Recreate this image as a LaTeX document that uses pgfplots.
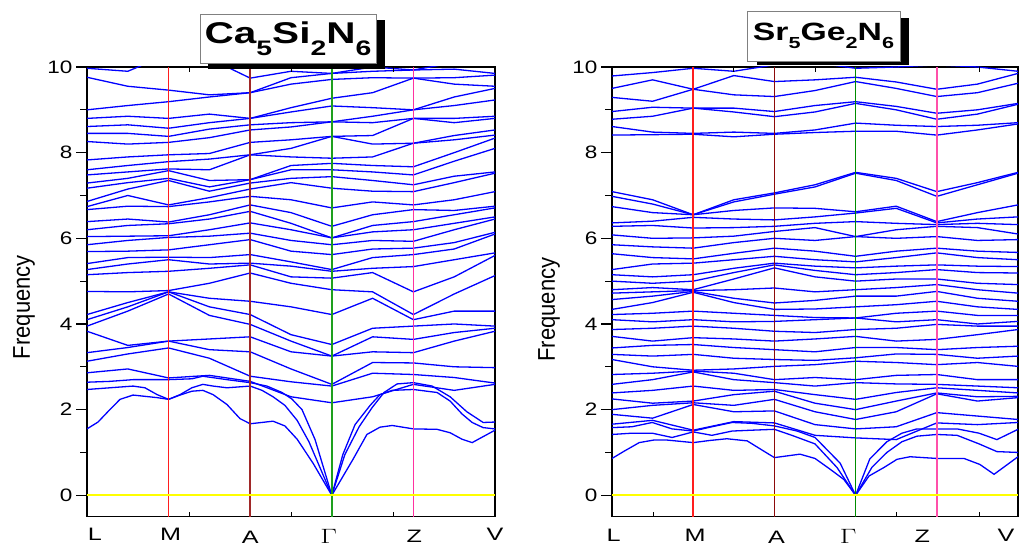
\documentclass[border=0pt]{standalone}
\usepackage{fontspec}
\setmainfont{Liberation Sans}
\usepackage{graphicx}
\usepackage{pgfplots}
\usepackage{pgfplotstable}
\pgfplotsset{compat=1.18}

\definecolor{bandblue}{RGB}{0,0,255}
\definecolor{leftM}{RGB}{255,30,30}
\definecolor{leftA}{RGB}{160,40,40}
\definecolor{leftG}{RGB}{30,160,30}
\definecolor{leftZ}{RGB}{255,50,160}
\definecolor{rightM}{RGB}{255,30,30}
\definecolor{rightA}{RGB}{140,10,10}
\definecolor{rightG}{RGB}{0,140,0}
\definecolor{rightZ}{RGB}{255,80,170}
\definecolor{zeroyellow}{RGB}{255,255,0}

\newcommand\yl[1]{\scalebox{1.25}[1]{#1}}
\newcommand\xl[3]{\makebox[0pt][c]{\hspace*{#1}\raisebox{#2}{\scalebox{1.4}[1]{#3}}}}
\newcommand\gam{{\fontsize{20}{20}\selectfont$\Gamma$}}
\newcommand\sbA[1]{\raisebox{-11.5pt}{\fontsize{21}{21}\selectfont #1}}
\newcommand\sbB[1]{\raisebox{-8.5pt}{\fontsize{16}{16}\selectfont #1}}

% Ca5Si2N6 optical bands: values at L, LM, M, MA, A, AG, G, GZ, Z, ZV, V
\pgfplotstableread{
band x0 x1 x2 x3 x4 x5 x6 x7 x8 x9 x10
b4 2.86 2.95 2.74 2.80 2.66 2.30 2.16 2.30 2.59 2.45 2.59
b5 3.13 3.30 3.44 3.20 2.78 2.65 2.55 2.85 2.82 2.75 2.62
b6 3.33 3.45 3.60 3.40 3.35 2.95 2.59 3.10 3.09 3.00 2.98
b7 3.83 3.50 3.60 3.65 3.70 3.35 3.25 3.35 3.33 3.60 3.83
b8 3.95 4.30 4.70 4.20 3.99 3.60 3.25 3.70 3.64 3.80 3.90
b9 4.10 4.40 4.75 4.40 4.22 3.75 3.52 3.90 3.95 4.00 3.95
b10 4.22 4.50 4.75 4.60 4.53 4.40 4.22 4.60 4.10 4.30 4.30
b11 4.76 4.75 4.78 4.95 5.19 4.95 4.80 4.75 4.22 4.70 5.13
b12 5.15 5.20 5.23 5.30 5.38 5.10 5.07 5.20 4.75 5.10 5.60
b13 5.27 5.40 5.50 5.40 5.42 5.35 5.23 5.30 5.34 5.50 5.66
b14 5.41 5.55 5.56 5.55 5.62 5.45 5.27 5.55 5.62 5.75 6.10
b15 5.69 5.70 5.73 5.85 5.97 5.70 5.62 5.75 5.77 5.90 6.14
b16 5.85 5.95 6.02 6.05 6.12 5.95 5.85 5.95 5.93 6.20 6.45
b17 6.04 6.05 6.06 6.20 6.36 6.20 6.01 6.15 6.20 6.35 6.50
b18 6.20 6.30 6.34 6.45 6.63 6.35 6.01 6.30 6.39 6.55 6.71
b19 6.39 6.45 6.38 6.55 6.78 6.60 6.28 6.55 6.67 6.65 6.75
b20 6.67 6.75 6.74 6.85 6.98 6.90 6.71 6.85 6.78 6.90 7.09
b21 6.74 7.00 6.78 6.95 7.15 7.30 7.17 7.10 7.09 7.30 7.52
b22 6.86 7.15 7.35 7.10 7.29 7.40 7.44 7.35 7.25 7.45 7.55
b23 7.17 7.30 7.40 7.20 7.37 7.60 7.60 7.55 7.48 7.80 8.10
b24 7.29 7.40 7.58 7.35 7.37 7.70 7.75 7.70 7.67 8.00 8.34
b25 7.48 7.55 7.62 7.60 7.95 7.90 7.87 7.90 8.22 8.30 8.41
b26 7.60 7.70 7.79 7.85 7.95 8.10 8.38 8.20 8.22 8.40 8.53
b27 7.83 7.90 7.95 7.98 8.24 8.30 8.38 8.40 8.80 8.70 8.80
b28 8.26 8.20 8.24 8.35 8.53 8.60 8.72 8.70 8.80 8.80 8.85
b29 8.45 8.45 8.38 8.55 8.65 8.70 8.72 8.85 9.00 9.10 9.23
b30 8.61 8.65 8.57 8.70 8.80 8.95 9.09 9.05 9.00 9.30 9.50
b31 8.80 8.85 8.80 8.90 8.80 9.05 9.27 9.40 9.74 9.60 9.55
b32 9.00 9.10 9.19 9.30 9.40 9.60 9.71 9.75 9.74 9.75 9.81
b33 9.76 9.55 9.46 9.35 9.40 9.75 9.85 9.90 9.93 9.95 9.85
b34 9.97 9.90 10.3 10.2 9.74 9.90 9.85 10.0 9.93 10.1 10.1
}\leftraw
\pgfplotstabletranspose[colnames from=band]\leftT\leftraw

% Sr5Ge2N6 optical bands
\pgfplotstableread{
band x0 x1 x2 x3 x4 x5 x6 x7 x8 x9 x10
r4 1.66 1.75 1.52 1.72 1.69 1.40 1.34 1.30 1.69 1.65 1.70
r5 1.89 1.80 2.12 1.95 1.97 1.65 1.55 1.60 1.93 1.85 1.77
r6 2.00 2.10 2.16 2.10 2.24 1.95 1.77 1.95 2.37 2.20 2.28
r7 2.25 2.15 2.20 2.35 2.43 2.15 2.00 2.20 2.39 2.30 2.31
r8 2.39 2.45 2.55 2.45 2.47 2.35 2.24 2.40 2.51 2.45 2.39
r9 2.59 2.70 2.88 2.70 2.63 2.55 2.63 2.60 2.59 2.55 2.51
r10 2.82 2.85 2.90 2.85 2.70 2.75 2.70 2.80 2.82 2.70 2.70
r11 3.17 3.00 2.92 2.95 3.01 3.05 3.13 3.10 3.05 3.10 3.01
r12 3.29 3.25 3.29 3.20 3.17 3.15 3.21 3.30 3.29 3.20 3.25
r13 3.44 3.50 3.52 3.45 3.40 3.35 3.45 3.45 3.40 3.45 3.48
r14 3.71 3.60 3.68 3.65 3.60 3.65 3.71 3.60 3.64 3.75 3.87
r15 3.87 3.90 3.95 3.90 3.83 3.80 3.87 3.90 3.99 3.95 3.95
r16 4.10 4.05 4.10 4.05 4.06 4.10 4.14 4.05 4.10 4.00 4.06
r17 4.22 4.25 4.30 4.25 4.20 4.15 4.14 4.25 4.30 4.20 4.20
r18 4.34 4.50 4.74 4.50 4.34 4.35 4.40 4.45 4.53 4.40 4.34
r19 4.57 4.65 4.76 4.60 4.49 4.55 4.65 4.65 4.76 4.60 4.53
r20 4.72 4.75 4.78 4.80 4.84 4.75 4.80 4.85 4.92 4.80 4.72
r21 4.80 4.85 4.80 5.05 5.31 5.10 5.00 5.05 5.05 4.95 4.92
r22 5.00 4.95 5.00 5.20 5.38 5.25 5.15 5.20 5.27 5.20 5.19
r23 5.15 5.10 5.15 5.30 5.42 5.35 5.31 5.35 5.38 5.35 5.34
r24 5.27 5.40 5.42 5.50 5.58 5.50 5.45 5.55 5.66 5.55 5.50
r25 5.64 5.55 5.52 5.65 5.77 5.70 5.58 5.70 5.77 5.70 5.67
r26 5.85 5.80 5.77 5.90 6.00 5.95 6.04 6.00 6.04 5.95 5.97
r27 6.08 6.00 6.01 6.05 6.16 6.25 6.04 6.20 6.28 6.25 6.10
r28 6.28 6.30 6.24 6.25 6.28 6.35 6.39 6.35 6.32 6.35 6.32
r29 6.36 6.40 6.49 6.45 6.43 6.50 6.59 6.70 6.36 6.45 6.50
r30 6.74 6.60 6.55 6.65 6.71 6.70 6.62 6.75 6.39 6.60 6.78
r31 7.09 6.90 6.55 6.90 7.06 7.25 7.54 7.40 7.09 7.30 7.54
r32 6.98 6.80 6.55 6.85 7.03 7.20 7.52 7.35 6.98 7.25 7.52
r33 8.41 8.42 8.43 8.37 8.43 8.47 8.50 8.50 8.41 8.53 8.67
r34 8.61 8.48 8.45 8.48 8.45 8.53 8.69 8.64 8.61 8.64 8.70
r35 8.78 8.85 9.04 8.95 8.84 8.95 9.15 9.00 8.78 8.90 9.13
r36 8.96 9.06 9.04 9.04 8.96 9.10 9.19 9.08 8.92 9.00 9.15
r37 9.29 9.20 9.48 9.35 9.31 9.45 9.66 9.50 9.31 9.40 9.62
r38 9.50 9.70 9.48 9.80 9.66 9.70 9.76 9.65 9.48 9.60 9.85
r39 9.79 9.87 9.97 9.90 10.05 10.1 9.97 10.0 10.05 10.0 9.90
}\rightraw
\pgfplotstabletranspose[colnames from=band]\rightT\rightraw

\pgfplotsset{
  bandaxis/.style={
    scale only axis, anchor=south west,
    height=449.7pt,
    xmin=0, xmax=10, ymin=-0.5, ymax=10,
    axis line style={line width=1.2pt},
    tick align=outside,
    major tick length=11pt, minor tick length=7pt,
    ytick={0,2,4,6,8,10}, minor ytick={1,3,5,7,9},
    yticklabels={\yl{0},\yl{2},\yl{4},\yl{6},\yl{8},\yl{10}},
    ytick pos=left,
    ytick style={line width=1.1pt, black},
    yticklabel style={font=\fontsize{18}{18}\selectfont, anchor=east},
    xtick={0,2,4,6,8,10},
    xtick style={draw=none},
    xticklabel style={font=\fontsize{18}{18}\selectfont, anchor=base},
    ylabel={\scalebox{1}[1.1]{Frequency}},
    every axis y label/.style={at={(axis description cs:0,0.466)}, xshift=-63pt, rotate=90, anchor=center, font=\fontsize{22}{22}\selectfont},
    band/.style={bandblue, line width=1.3pt},
    symline/.style={line width=1.5pt},
  },
}

\begin{document}
\begin{tikzpicture}
\useasboundingbox (0,0) rectangle (1019pt,546pt);

% ---------------- Ca5Si2N6 ----------------
\begin{axis}[bandaxis, at={(87pt,29.3pt)}, width=408pt,
  xticklabels={\xl{16pt}{0pt}{L},\xl{4pt}{0pt}{M},\xl{0pt}{-3pt}{A},\xl{-6pt}{-3pt}{\gam},\xl{2pt}{-1.5pt}{Z},\xl{0pt}{0pt}{V}},
  xticklabel style={yshift=-13pt},
]
\pgfplotsinvokeforeach{4,...,34}{\addplot[band] table[x expr=\coordindex, y=b#1]{\leftT};}
\addplot[band] coordinates {(0,1.55)(0.27,1.71)(0.56,2.00)(0.81,2.24)(1.13,2.34)(1.72,2.28)(2,2.24)(2.28,2.34)(2.57,2.43)(2.84,2.45)(3.09,2.35)(3.43,2.12)(3.75,1.79)(4,1.67)(4.56,1.73)(4.85,1.62)(5.15,1.31)(5.54,0.75)(6,0)(6.52,0.84)(6.86,1.42)(7.18,1.59)(7.48,1.63)(8,1.55)(8.58,1.54)(8.9,1.46)(9.19,1.31)(9.44,1.23)(10,1.52)};
\addplot[band] coordinates {(0,2.47)(0.56,2.51)(1.13,2.55)(1.42,2.51)(1.72,2.35)(2,2.24)(2.28,2.35)(2.57,2.51)(2.84,2.59)(3.09,2.55)(3.43,2.51)(4,2.55)(4.29,2.45)(4.56,2.30)(4.85,2.10)(5.15,1.75)(5.44,1.25)(6,0)(6.27,0.95)(6.57,1.65)(6.94,2.10)(7.18,2.35)(7.48,2.45)(8,2.47)(8.58,2.40)(8.9,2.20)(9.19,1.90)(9.44,1.70)(9.71,1.58)(10,1.55)};
\addplot[band] coordinates {(0,2.64)(0.56,2.66)(1.13,2.70)(2,2.70)(2.57,2.72)(2.84,2.78)(3.43,2.70)(4,2.63)(4.41,2.55)(4.78,2.40)(5.02,2.25)(5.27,2.0)(5.59,1.3)(6,0)(6.32,0.95)(6.67,1.6)(6.99,2.05)(7.28,2.40)(7.6,2.60)(8,2.63)(8.46,2.55)(8.9,2.30)(9.31,1.95)(9.71,1.70)(10,1.71)};
\addplot[symline, color=leftM] coordinates {(2,-0.5)(2,10)};
\addplot[symline, color=leftA] coordinates {(4,-0.5)(4,10)};
\addplot[symline, color=leftG] coordinates {(6,-0.5)(6,10)};
\addplot[symline, color=leftZ] coordinates {(8,-0.5)(8,10)};
\addplot[zeroyellow, line width=1.8pt] coordinates {(0,0)(10,0)};
\draw[line width=1pt] (axis cs:2.5,-0.5) -- (axis cs:2.5,-0.39) (axis cs:5,-0.5) -- (axis cs:5,-0.39) (axis cs:7.5,-0.5) -- (axis cs:7.5,-0.39);
\draw[line width=1pt] (axis cs:2.5,10) -- (axis cs:2.5,9.89) (axis cs:5,10) -- (axis cs:5,9.89) (axis cs:7.5,10) -- (axis cs:7.5,9.89);
\end{axis}

% ---------------- Sr5Ge2N6 ----------------
\begin{axis}[bandaxis, at={(612pt,29.3pt)}, width=406pt,
  xticklabels={\xl{3pt}{0pt}{L},\xl{4pt}{0pt}{M},\xl{4pt}{-1.5pt}{A},\xl{-15pt}{-1.5pt}{\gam},\xl{-29pt}{-1pt}{Z},\xl{-24pt}{0pt}{V}},
  xticklabel style={yshift=-14pt},
  every axis y label/.append style={xshift=-2.5pt},
]
\pgfplotsinvokeforeach{4,...,39}{\addplot[band] table[x expr=\coordindex, y=r#1]{\rightT};}
\addplot[band] coordinates {(0,0.86)(0.30,1.03)(0.67,1.23)(1.03,1.29)(1.35,1.29)(2,1.23)(2.41,1.28)(2.83,1.32)(3.33,1.27)(3.74,1.03)(4,0.88)(4.63,0.96)(5,0.86)(5.37,0.61)(5.71,0.37)(6,0)(6.33,0.45)(6.70,0.65)(7.02,0.84)(7.34,0.90)(8,0.86)(8.67,0.86)(9.06,0.72)(9.41,0.49)(10,0.90)};
\addplot[band] coordinates {(0,1.42)(0.49,1.45)(0.99,1.45)(1.48,1.35)(2,1.48)(2.46,1.40)(2.96,1.50)(3.45,1.52)(4,1.54)(4.43,1.40)(5,1.20)(5.54,0.65)(6,0)(6.4,0.65)(6.77,1.0)(7.14,1.25)(7.51,1.38)(8,1.42)(8.5,1.40)(9.04,1.20)(9.48,1.02)(10,1.0)};
\addplot[band] coordinates {(0,1.58)(0.49,1.60)(0.99,1.70)(1.48,1.55)(2,1.50)(2.46,1.60)(2.96,1.70)(3.45,1.68)(4,1.62)(4.56,1.50)(5,1.35)(5.62,0.75)(6,0)(6.35,0.85)(6.77,1.25)(7.14,1.45)(7.51,1.55)(8,1.55)(8.5,1.55)(9.04,1.45)(9.48,1.30)(10,1.54)};
\addplot[symline, color=rightM] coordinates {(2,-0.5)(2,10)};
\addplot[symline, color=rightA] coordinates {(4,-0.5)(4,10)};
\addplot[symline, color=rightG] coordinates {(6,-0.5)(6,10)};
\addplot[symline, color=rightZ] coordinates {(8,-0.5)(8,10)};
\addplot[zeroyellow, line width=1.8pt] coordinates {(0,0)(10,0)};
\draw[line width=1pt] (axis cs:1.02,-0.5) -- (axis cs:1.02,-0.39) (axis cs:7.0,-0.5) -- (axis cs:7.0,-0.39) (axis cs:9.06,-0.5) -- (axis cs:9.06,-0.39);
\draw[line width=1pt] (axis cs:3.0,10) -- (axis cs:3.0,9.89) (axis cs:5,10) -- (axis cs:5,9.89) (axis cs:9.06,10) -- (axis cs:9.06,9.89);
\end{axis}

% ---------------- titles ----------------
\fill[black] (208pt,477pt) rectangle (385pt,526pt);
\node[draw=gray, fill=white, line width=0.8pt, minimum width=176pt, minimum height=49pt, inner sep=0pt]
  at (288pt,507.5pt) {\bfseries\fontsize{30}{30}\selectfont\scalebox{1.35}[1]{Ca\sbA{5}Si\sbA{2}N\sbA{6}}};
\fill[black] (757pt,481pt) rectangle (909pt,528pt);
\node[draw=gray, fill=white, line width=0.8pt, minimum width=153pt, minimum height=50pt, inner sep=0pt]
  at (823.5pt,510pt) {\bfseries\fontsize{25}{25}\selectfont\scalebox{1.35}[1]{Sr\sbB{5}Ge\sbB{2}N\sbB{6}}};
\end{tikzpicture}
\end{document}
